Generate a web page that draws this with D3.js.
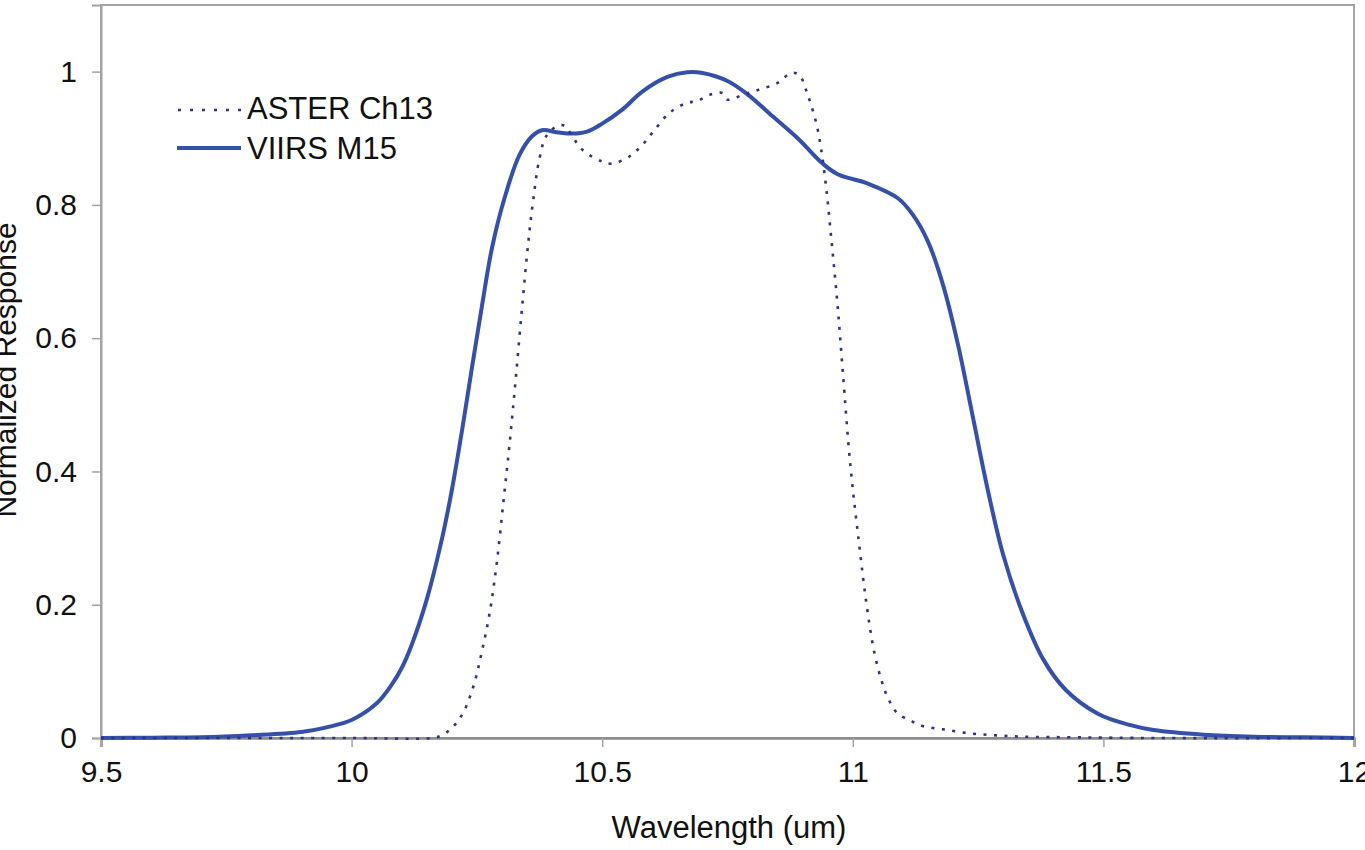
<!DOCTYPE html>
<html>
<head>
<meta charset="utf-8">
<script src="https://cdn.jsdelivr.net/npm/d3@7"></script>
<style>
  html, body { margin: 0; padding: 0; background: #fff; }
  svg { display: block; }
  text { font-family: "Liberation Sans", Arial, sans-serif; fill: #111; }
</style>
</head>
<body>
<svg id="chart" width="1365" height="850"></svg>
<script>
// ---- Data ----
const xTicks = [9.5, 10, 10.5, 11, 11.5, 12];
const xTickLabels = ["9.5", "10", "10.5", "11", "11.5", "12"];
const yTicks = [0, 0.2, 0.4, 0.6, 0.8, 1];
const yTickLabels = ["0", "0.2", "0.4", "0.6", "0.8", "1"];
const seriesNames = ["ASTER Ch13", "VIIRS M15"];

const viirsWavelength = [9.5, 9.6, 9.7, 9.8, 9.9, 9.95, 10.0, 10.05, 10.08, 10.1, 10.12, 10.15, 10.18, 10.2, 10.22, 10.24, 10.26, 10.28, 10.305, 10.335, 10.36, 10.38, 10.41, 10.44, 10.47, 10.5, 10.54, 10.58, 10.63, 10.67, 10.7, 10.75, 10.79, 10.84, 10.89, 10.94, 10.97, 11.03, 11.09, 11.12, 11.15, 11.18, 11.21, 11.24, 11.27, 11.30, 11.34, 11.38, 11.425, 11.49, 11.55, 11.6, 11.7, 11.8, 11.9, 12.0];
const viirsResponse   = [0, 0.0005, 0.001, 0.004, 0.009, 0.016, 0.027, 0.052, 0.08, 0.105, 0.14, 0.208, 0.298, 0.372, 0.46, 0.555, 0.648, 0.735, 0.81, 0.875, 0.903, 0.912, 0.909, 0.907, 0.91, 0.922, 0.943, 0.97, 0.992, 0.999, 0.998, 0.986, 0.966, 0.933, 0.9, 0.862, 0.846, 0.832, 0.81, 0.785, 0.745, 0.68, 0.59, 0.48, 0.37, 0.275, 0.185, 0.118, 0.072, 0.036, 0.02, 0.012, 0.005, 0.002, 0.001, 0];

const asterWavelength = [9.5, 10.0, 10.16, 10.18, 10.2, 10.222, 10.244, 10.26, 10.276, 10.29, 10.303, 10.315, 10.327, 10.34, 10.352, 10.362, 10.375, 10.39, 10.42, 10.46, 10.5, 10.52, 10.555, 10.58, 10.605, 10.634, 10.668, 10.69, 10.714, 10.74, 10.75, 10.78, 10.813, 10.85, 10.877, 10.893, 10.91, 10.927, 10.937, 10.947, 10.957, 10.969, 10.98, 10.995, 11.012, 11.027, 11.043, 11.057, 11.069, 11.089, 11.113, 11.139, 11.18, 11.232, 11.286, 11.34, 11.45, 11.6, 12.0];
const asterResponse   = [0, 0, 0, 0.004, 0.015, 0.037, 0.08, 0.13, 0.19, 0.265, 0.355, 0.44, 0.535, 0.645, 0.74, 0.805, 0.87, 0.905, 0.92, 0.883, 0.865, 0.862, 0.873, 0.89, 0.913, 0.938, 0.953, 0.956, 0.965, 0.968, 0.958, 0.965, 0.973, 0.983, 0.998, 0.995, 0.965, 0.923, 0.883, 0.825, 0.75, 0.655, 0.55, 0.41, 0.295, 0.203, 0.128, 0.087, 0.062, 0.037, 0.027, 0.018, 0.013, 0.007, 0.004, 0.002, 0.001, 0, 0];

// ---- Layout ----
const svg = d3.select("#chart");
const plotLeft = 101, plotRight = 1354, plotTop = 5, plotBottom = 738;

const x = d3.scaleLinear().domain([9.5, 12]).range([plotLeft, plotRight]);
const y = d3.scaleLinear().domain([0, 1.1]).range([plotBottom, plotTop]);

const frameColor = "#a3a3a3";

// frame
svg.append("rect")
  .attr("x", plotLeft).attr("y", plotTop)
  .attr("width", plotRight - plotLeft).attr("height", plotBottom - plotTop)
  .attr("fill", "none").attr("stroke", frameColor).attr("stroke-width", 2);

// x axis
const xAxis = svg.append("g").attr("transform", `translate(0,${plotBottom})`)
  .call(d3.axisBottom(x).tickValues(xTicks).tickFormat((d, i) => xTickLabels[i]).tickSizeOuter(0).tickSize(9).tickPadding(14));
xAxis.select(".domain").attr("stroke", "#8a8a8a").attr("stroke-width", 2.5);
xAxis.selectAll(".tick line").attr("stroke", frameColor).attr("stroke-width", 1.5);
xAxis.selectAll("text").attr("font-size", 30).attr("font-family", "Liberation Sans, Arial, sans-serif").attr("fill", "#111");

// y axis
const yAxis = svg.append("g").attr("transform", `translate(${plotLeft},0)`)
  .call(d3.axisLeft(y).tickValues(yTicks).tickFormat((d, i) => yTickLabels[i]).tickSizeOuter(0).tickSize(9).tickPadding(15));
yAxis.select(".domain").attr("stroke", frameColor).attr("stroke-width", 2);
yAxis.selectAll(".tick line").attr("stroke", frameColor).attr("stroke-width", 1.5);
yAxis.selectAll("text").attr("font-size", 30).attr("font-family", "Liberation Sans, Arial, sans-serif").attr("fill", "#111");

// axis titles
svg.append("text")
  .attr("x", 729).attr("y", 838)
  .attr("text-anchor", "middle").attr("font-size", 31)
  .text("Wavelength (um)");

svg.append("text")
  .attr("transform", `translate(16,${370}) rotate(-90)`)
  .attr("text-anchor", "middle").attr("font-size", 30)
  .text("Normalized Response");

// lines
const line = d3.line().x(d => x(d[0])).y(d => Math.min(y(d[1]), plotBottom)).curve(d3.curveCatmullRom.alpha(0.5));

const asterData = asterWavelength.map((w, i) => [w, asterResponse[i]]);
const viirsData = viirsWavelength.map((w, i) => [w, viirsResponse[i]]);

const asterColor = "#2e3482";
const viirsColor = "#3450a9";

svg.append("path").datum(viirsData)
  .attr("d", line).attr("fill", "none")
  .attr("stroke", viirsColor).attr("stroke-width", 4).attr("stroke-linejoin", "round");

svg.append("path").datum(asterData)
  .attr("d", line).attr("fill", "none")
  .attr("stroke", asterColor).attr("stroke-width", 2.6)
  .attr("stroke-dasharray", "3,7.5");

// legend
const legend = svg.append("g");
legend.append("line").attr("x1", 178).attr("x2", 242).attr("y1", 110).attr("y2", 110)
  .attr("stroke", asterColor).attr("stroke-width", 2.6).attr("stroke-dasharray", "3,9");
legend.append("text").attr("x", 247).attr("y", 108).attr("dy", "0.36em")
  .attr("font-size", 31).text(seriesNames[0]);
legend.append("line").attr("x1", 177).attr("x2", 241).attr("y1", 148).attr("y2", 148)
  .attr("stroke", viirsColor).attr("stroke-width", 4);
legend.append("text").attr("x", 247).attr("y", 148).attr("dy", "0.36em")
  .attr("font-size", 31).text(seriesNames[1]);
</script>
</body>
</html>
